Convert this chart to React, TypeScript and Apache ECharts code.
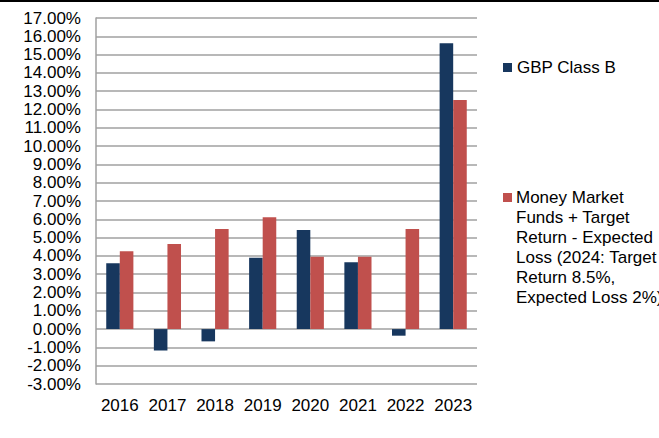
import React, { useEffect, useRef } from "react";
import * as echarts from "echarts";

const categories = ["2016", "2017", "2018", "2019", "2020", "2021", "2022", "2023"];
const gbpClassB = [3.6, -1.17, -0.67, 3.9, 5.42, 3.65, -0.36, 15.62];
const moneyMarket = [4.25, 4.65, 5.47, 6.11, 3.96, 3.96, 5.47, 12.52];
const seriesNames = [
  "GBP Class B",
  "Money Market Funds + Target Return - Expected Loss (2024: Target Return 8.5%, Expected Loss 2%)",
];
const legendLines = [
  "Money Market",
  "Funds + Target",
  "Return - Expected",
  "Loss (2024: Target",
  "Return 8.5%,",
  "Expected Loss 2%)",
];
const colors = ["#17375E", "#C0504D"];

export default function App() {
  const ref = useRef<HTMLDivElement>(null);
  useEffect(() => {
    if (!ref.current) return;
    const chart = echarts.init(ref.current, undefined, { renderer: "svg" });
    const font = "'Liberation Sans', Arial, sans-serif";
    const fs = 17;
    chart.setOption({
      animation: false,
      backgroundColor: "#ffffff",
      textStyle: { fontFamily: font },
      grid: { left: 96, right: 182, top: 18, bottom: 54, containLabel: false },
      legend: {
        data: [seriesNames[0]],
        left: 503,
        top: 59,
        padding: 0,
        itemWidth: 9,
        itemHeight: 9,
        icon: "rect",
        textStyle: { fontFamily: font, fontSize: fs, color: "#000" },
        selectedMode: false,
      },
      xAxis: {
        type: "category",
        data: categories,
        axisLine: { show: false },
        axisTick: { show: false },
        axisLabel: {
          fontSize: fs,
          color: "#000",
          margin: 13,
          fontFamily: font,
          interval: 0,
          hideOverlap: false,
        },
      },
      yAxis: {
        type: "value",
        min: -3,
        max: 17,
        interval: 1,
        axisLine: { show: true, lineStyle: { color: "#A0A0A0", width: 1.5 } },
        axisTick: { show: false },
        axisLabel: {
          fontSize: fs,
          color: "#000",
          margin: 15,
          fontFamily: font,
          formatter: (v: number) => v.toFixed(2) + "%",
        },
        splitLine: { show: true, lineStyle: { color: "#A0A0A0", width: 1.5 } },
      },
      series: [
        {
          name: seriesNames[0],
          type: "bar",
          data: gbpClassB,
          itemStyle: { color: colors[0] },
          barGap: "0%",
          barCategoryGap: "43%",
        },
        {
          name: seriesNames[1],
          type: "bar",
          data: moneyMarket,
          itemStyle: { color: colors[1] },
          barGap: "0%",
          barCategoryGap: "43%",
        },
      ],
      graphic: [
        {
          type: "line",
          shape: { x1: 0, y1: 1, x2: 659, y2: 1 },
          style: { stroke: "#000", lineWidth: 2 },
        },
        {
          type: "rect",
          shape: { x: 503, y: 193, width: 9, height: 9 },
          style: { fill: colors[1] },
        },
        {
          type: "text",
          x: 516,
          y: 187,
          style: {
            text: legendLines.join("\n"),
            fontFamily: font,
            fontSize: fs,
            lineHeight: 20,
            fill: "#000",
            verticalAlign: "top",
          },
        },
      ],
    });
    return () => chart.dispose();
  }, []);
  return (
    <div
      ref={ref}
      style={{ position: "fixed", left: 0, top: 0, width: 659, height: 438 }}
    />
  );
}
